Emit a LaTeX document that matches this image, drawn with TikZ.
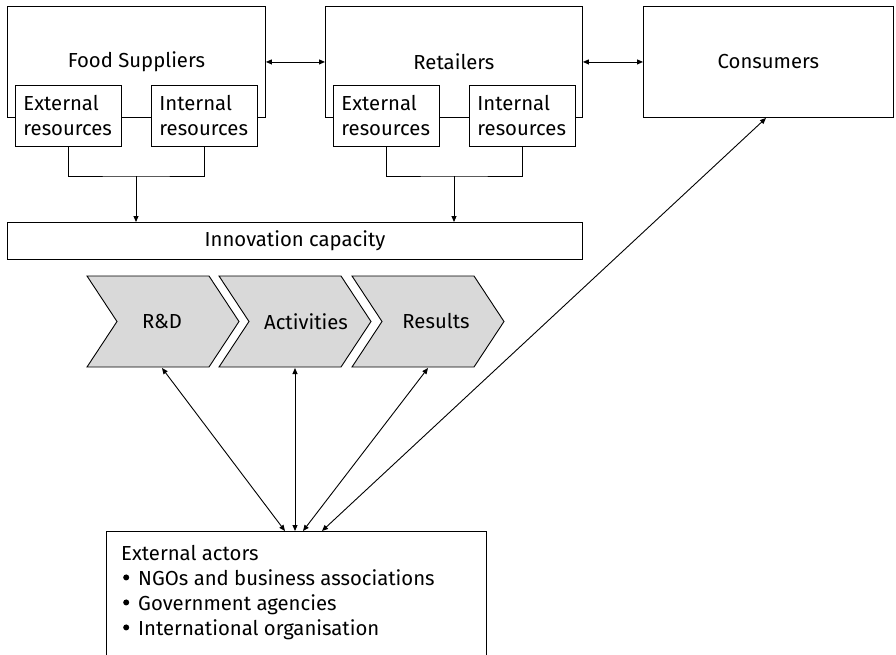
\documentclass[tikz,border=0pt]{standalone}
\usepackage{fontspec}
\setmainfont{Fira Sans}
\usetikzlibrary{arrows.meta}
\newcommand{\bulletdot}{\tikz[x=1pt,y=1pt,baseline=-8pt]\fill (0,0) circle (3pt);}
\begin{document}
\begin{tikzpicture}[x=1pt,y=-1pt,
  font=\fontsize{20.3pt}{25pt}\selectfont,
  line width=0.9pt,
  box/.style={draw, line width=0.9pt, inner sep=0pt, anchor=north west},
  subbox/.style={draw, fill=white, line width=0.9pt, anchor=north west,
    minimum width=106pt, minimum height=61pt, inner xsep=8pt, inner ysep=0pt,
    text width=90pt, align=left},
  chev/.style={draw, fill=chevgray, line width=0.9pt},
  arrone/.style={-{Triangle[length=6pt,width=5pt]}},
  arrtwo/.style={{Triangle[length=6pt,width=5pt]}-{Triangle[length=6pt,width=5pt]}}
]
\definecolor{chevgray}{HTML}{D9D9D9}
\useasboundingbox (0,0) rectangle (896,654);

% top boxes
\node[box, minimum width=258pt, minimum height=111pt] (fs) at (7,6) {Food Suppliers};
\node[box, minimum width=257pt, minimum height=111pt] (ret) at (325,6) {Retailers};
\node[box, minimum width=250pt, minimum height=111pt] (con) at (643,6) {Consumers};

\node[subbox] (fsE) at (15,85) {External\\resources};
\node[subbox] (fsI) at (151,85) {Internal\\resources};
\node[subbox] (rE) at (333,85) {External\\resources};
\node[subbox] (rI) at (469,85) {Internal\\resources};

\draw[arrtwo] (fs.east) -- (ret.west);
\draw[arrtwo] (ret.east) -- (con.west);

% innovation capacity
\node[box, minimum width=575pt, minimum height=37pt] (inno) at (7,222) {Innovation capacity};

\coordinate (fsJ) at (136,176);
\coordinate (rJ) at (454,176);
\draw (fsE.south) |- (fsJ) -| (fsI.south);
\draw (rE.south) |- (rJ) -| (rI.south);
\draw[arrone] (fsJ) -- (fsJ |- inno.north);
\draw[arrone] (rJ) -- (rJ |- inno.north);

% chevrons
\foreach \L/\nm/\dx/\txt in {87/rd/75/R\&D, 219/act/87/Activities, 352/res/84/Results}{
  \draw[chev] (\L,276) -- (\L+122,276) -- (\L+152,321.5) -- (\L+122,367)
     -- (\L,367) -- (\L+30,321.5) -- cycle;
  \node (\nm) at (\L+\dx,321.5) {\txt};
}
\coordinate (rdB) at (162,368);
\coordinate (actB) at (295,368);
\coordinate (resB) at (428,368);
\coordinate (conB) at (766,118);

% external actors
\node[box, minimum width=380pt, minimum height=150pt] (ext) at (106,531) {};
\node[anchor=north west, align=left, inner sep=0pt] (extT) at (121,545)
  {External actors\\
   \hspace{2pt}\bulletdot\hspace{9pt}NGOs and business associations\\
   \hspace{2pt}\bulletdot\hspace{9pt}Government agencies\\
   \hspace{2pt}\bulletdot\hspace{9pt}International organisation};

\coordinate (e1) at (285,531);
\coordinate (e2) at (295,531);
\coordinate (e3) at (303,531);
\coordinate (e4) at (322,531);

\draw[arrtwo] (rdB) -- (e1);
\draw[arrtwo] (actB) -- (e2);
\draw[arrtwo] (resB) -- (e3);
\draw[arrtwo] (conB) -- (e4);
\end{tikzpicture}
\end{document}
